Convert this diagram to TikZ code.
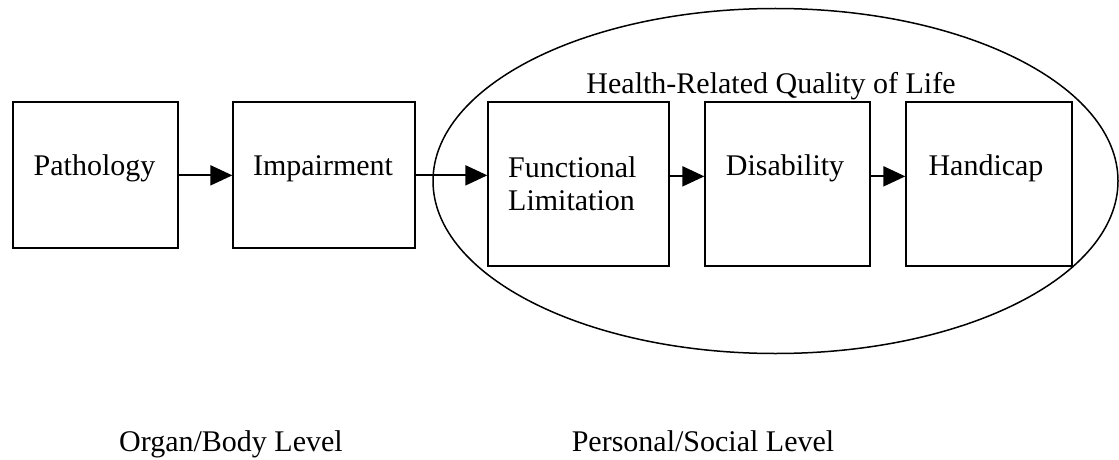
\documentclass[tikz,border=0pt]{standalone}
\usepackage{fontspec}
\setmainfont{Liberation Serif}
\usetikzlibrary{arrows.meta,calc}
\begin{document}
\begin{tikzpicture}[x=1pt,y=-1pt,
  box/.style={draw, line width=1.3pt, inner sep=0pt},
  lbl/.style={anchor=base, inner sep=0pt, font=\fontsize{30}{33}\selectfont},
  arr/.style={line width=2pt, -{Triangle[length=22pt,width=20pt]}},
  oval/.style={draw, line width=1.5pt}]
\useasboundingbox (0,0) rectangle (1119,460);
% boxes
\node[box, minimum width=165pt, minimum height=146pt] (p) at (95.5,175) {};
\node[box, minimum width=182pt, minimum height=146pt] (i) at (324,175) {};
\node[box, minimum width=181pt, minimum height=164pt] (fl) at (578.5,184) {};
\node[box, minimum width=165pt, minimum height=164pt] (d) at (787.5,184) {};
\node[box, minimum width=166pt, minimum height=164pt] (h) at (989,184) {};
% ellipse
\draw[oval] (775.5,181) ellipse [x radius=342.5pt, y radius=172.5pt];
% texts
\node[lbl] (tp) at (94.5,175) {Pathology};
\node[lbl] (ti) at (323,175) {Impairment};
\node[lbl, anchor=base west, align=left] (tfl) at (508,210) {Functional\\Limitation};
\node[lbl] (td) at (785,175) {Disability};
\node[lbl] (th) at (986,175) {Handicap};
\node[lbl] (hq) at (771,93) {Health-Related Quality of Life};
\node[lbl] (ob) at (231,451) {Organ/Body Level};
\node[lbl] (ps) at (703,451) {Personal/Social Level};
% arrows
\draw[arr] ($(p.north east)+(0,74)$) -- ($(i.north west)+(0,74)$);
\draw[arr] ($(i.north east)+(0,74)$) -- ($(fl.north west)+(0,74)$);
\draw[arr] ($(fl.north east)+(0,75)$) -- ($(d.north west)+(0,75)$);
\draw[arr] ($(d.north east)+(0,75)$) -- ($(h.north west)+(0,75)$);
\end{tikzpicture}
\end{document}
